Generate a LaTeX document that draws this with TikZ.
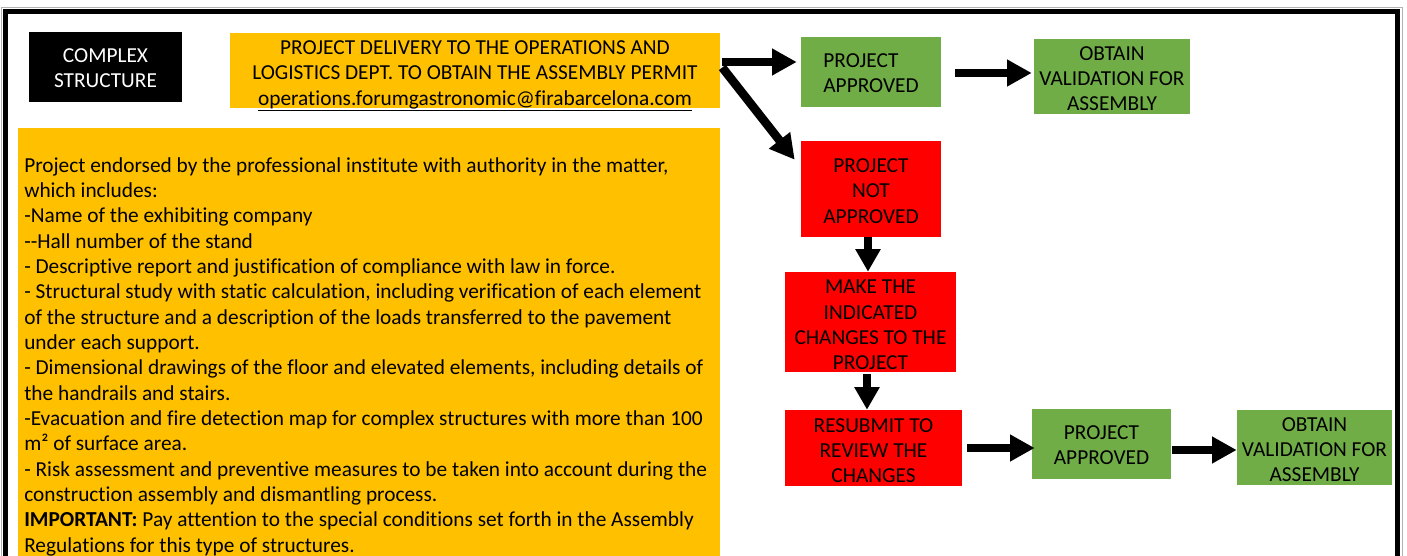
\documentclass[tikz,border=0pt]{standalone}
\usepackage{fontspec}
\setmainfont{Carlito}[Ligatures={NoCommon}]
\usetikzlibrary{arrows.meta,calc}
\definecolor{orng}{HTML}{FFC000}
\definecolor{grn}{HTML}{70AD47}
\definecolor{rd}{HTML}{FF0000}
\begin{document}
\begin{tikzpicture}[x=0.75pt,y=-0.75pt,
  box/.style={inner sep=0pt, align=center, font=\fontsize{16}{19}\selectfont, text=black},
  sz/.style 2 args={minimum width=#1*0.75pt, minimum height=#2*0.75pt, inner sep=0pt},
  down/.style={yshift=-#1*0.75pt},
  arr/.style={line width=6.5pt, -{Triangle[length=18.5pt,width=19pt]}},
  varr/.style={line width=6pt, -{Triangle[length=17pt,width=18pt]}}]
\useasboundingbox (0,0) rectangle (1407,556);
\clip (0,0) rectangle (1407,556);
\fill[white] (0,0) rectangle (1407,556);
% frame
\draw[gray!60, line width=0.6pt] (1,600) -- (1,7) -- (1402,7) -- (1402,600);
\draw[line width=3.75pt] (5.5,600) -- (5.5,11.5) -- (1397.5,11.5) -- (1397.5,600);
% box shapes
\node[fill=black, sz={153}{70}] (cs) at (105.5,67) {};
\node[fill=orng, sz={490}{75}] (top) at (475,70.5) {};
\node[fill=orng, sz={702}{460}, anchor=north west] (big) at (18,128) {};
\node[fill=grn, sz={140}{70}] (ap1) at (871,72) {};
\node[fill=grn, sz={156}{75}] (ob1) at (1112,76.5) {};
\node[fill=rd, sz={140}{96}] (na) at (871,189) {};
\node[fill=rd, sz={171}{100}] (mk) at (870.5,322) {};
\node[fill=rd, sz={177}{76}] (rs) at (873.5,448) {};
\node[fill=grn, sz={139}{70}] (ap2) at (1101.5,444) {};
\node[fill=grn, sz={155}{75}] (ob2) at (1314.5,447.5) {};
% texts
\node[box, text=white, down=1] (cst) at (cs) {COMPLEX\\STRUCTURE};
\node[box, down=5.5] (topt) at (top) {PROJECT DELIVERY TO THE OPERATIONS AND\\LOGISTICS DEPT. TO OBTAIN THE ASSEMBLY PERMIT\\\underline{operations.forumgastronomic@firabarcelona.com}};
\node[box, align=left, anchor=north west] (bigt) at (24,157) {Project endorsed by the professional institute with authority in the matter,\\
which includes:\\
-Name of the exhibiting company\\
-{}-Hall number of the stand\\
- Descriptive report and justification of compliance with law in force.\\
- Structural study with static calculation, including verification of each element\\
of the structure and a description of the loads transferred to the pavement\\
under each support.\\
- Dimensional drawings of the floor and elevated elements, including details of\\
the handrails and stairs.\\
-Evacuation and fire detection map for complex structures with more than 100\\
m² of surface area.\\
- Risk assessment and preventive measures to be taken into account during the\\
construction assembly and dismantling process.\\
\textbf{IMPORTANT:} Pay attention to the special conditions set forth in the Assembly\\
Regulations for this type of structures.};
\node[box, align=left, down=1] (ap1t) at (ap1) {PROJECT\\APPROVED};
\node[box, down=2] (ob1t) at (ob1) {OBTAIN\\VALIDATION FOR\\ASSEMBLY};
\node[box, down=2] (nat) at (na) {PROJECT\\NOT\\APPROVED};
\node[box, down=3] (mkt) at (mk) {MAKE THE\\INDICATED\\CHANGES TO THE\\PROJECT};
\node[box, down=2.5] (rst) at (rs) {RESUBMIT TO\\REVIEW THE\\CHANGES};
\node[box, down=1] (ap2t) at (ap2) {PROJECT\\APPROVED};
\node[box, down=2] (ob2t) at (ob2) {OBTAIN\\VALIDATION FOR\\ASSEMBLY};
% arrows
\draw[arr] ($(top.east)+(2,-8.5)$) -- ($(ap1.west |- top.east)+(-4,-8.5)$);
\draw[arr] ($(top.east)+(2,-3)$) -- ($(na.north west)+(-6,19)$);
\draw[arr] ($(ap1.east)+(14,1)$) -- ($(ap1.east -| ob1.west)+(-2,1)$);
\draw[varr] ($(na.south)+(-3,0)$) -- ($(mk.north)+(-2.5,0)$);
\draw[varr] ($(mk.south)+(-3.5,2)$) -- ($(rs.north)+(-6.5,0)$);
\draw[arr] ($(rs.east)+(5,0)$) -- ($(rs.east -| ap2.west)+(3,0)$);
\draw[arr] ($(ap2.east)+(1,6)$) -- ($(ap2.east -| ob2.west)+(0,6)$);
\end{tikzpicture}
\end{document}
